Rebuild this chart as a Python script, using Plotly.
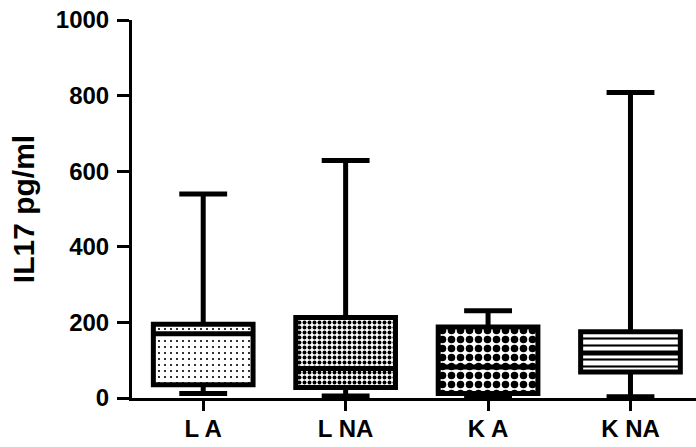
import plotly.graph_objects as go

categories = ["L A", "L NA", "K A", "K NA"]
lower = [12, 5, 3, 3]
q1 = [35, 28, 12, 69]
median = [170, 78, 82, 119]
q3 = [195, 213, 188, 175]
upper = [540, 628, 231, 808]

pattern_shapes = [".", ".", ".", "-"]
pattern_sizes = [6, 5, 9, 7]
pattern_solid = [0.1, 0.5, 0.55, 0.3]

FONT = "Arial, 'Liberation Sans', sans-serif"

fig = go.Figure()

heights = [b - a for a, b in zip(q1, q3)]
fig.add_trace(go.Bar(
    x=categories, y=heights, base=q1, width=0.7,
    marker=dict(color="white", line=dict(width=0),
                pattern=dict(shape=pattern_shapes, size=pattern_sizes,
                             solidity=pattern_solid, fgcolor="black",
                             bgcolor="white", fillmode="replace")),
    hoverinfo="skip", showlegend=False,
))

fig.add_trace(go.Box(
    x=categories, q1=q1, median=median, q3=q3,
    lowerfence=lower, upperfence=upper,
    width=0.7, whiskerwidth=0.48, boxpoints=False,
    fillcolor="rgba(0,0,0,0)", line=dict(color="black", width=5),
    hoverinfo="skip", showlegend=False,
))

fig.update_layout(
    width=696, height=447,
    margin=dict(l=132, r=0, t=20, b=49),
    plot_bgcolor="white", paper_bgcolor="white",
    font=dict(family=FONT, color="black"),
    bargap=0,
    xaxis=dict(
        type="category", range=[-0.5, 3.46], automargin=False,
        showline=True, linecolor="black", linewidth=3,
        ticks="outside", ticklen=10, tickwidth=3, tickcolor="black",
        ticklabelstandoff=-3, ticklabeloverflow="allow",
        tickfont=dict(size=24, weight="bold", family=FONT),
        showgrid=False, zeroline=False, fixedrange=True,
    ),
    yaxis=dict(
        range=[0, 1000], tickvals=[0, 200, 400, 600, 800, 1000], automargin=False,
        showline=True, linecolor="black", linewidth=3,
        ticks="outside", ticklen=12, tickwidth=3, tickcolor="black",
        ticklabelstandoff=3, ticklabeloverflow="allow",
        tickfont=dict(size=24, weight="bold", family=FONT),
        title=dict(text="IL17 pg/ml", font=dict(size=30, weight="bold", family=FONT), standoff=13),
        showgrid=False, zeroline=False, fixedrange=True,
    ),
)

fig.write_html(
    "out.html",
    config={"displayModeBar": False},
    post_script="document.body.style.margin='0';document.body.style.overflow='hidden';",
)
